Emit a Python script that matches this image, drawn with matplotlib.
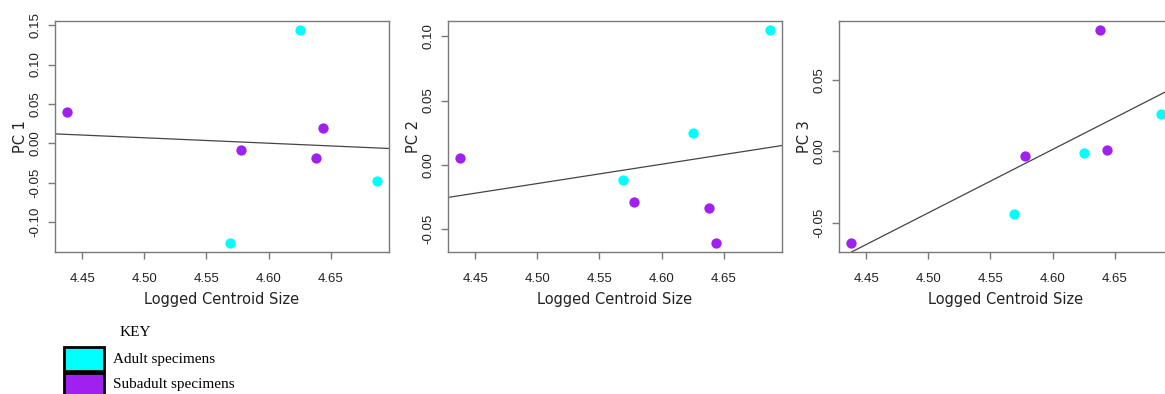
import matplotlib
matplotlib.use("Agg")
import matplotlib.pyplot as plt
import numpy as np
from matplotlib.patches import Rectangle
from matplotlib.ticker import FormatStrFormatter

plt.rcParams["axes.unicode_minus"] = False

# logged centroid size per specimen
size_adult = [4.569, 4.625, 4.687]
size_subadult = [4.438, 4.578, 4.638, 4.644]

# principal component scores
pc1_adult = [-0.1275, 0.1445, -0.0477]
pc1_subadult = [0.0398, -0.0084, -0.0185, 0.0190]
pc2_adult = [-0.0122, 0.0246, 0.1054]
pc2_subadult = [0.0055, -0.0288, -0.0340, -0.0615]
pc3_adult = [-0.0435, -0.0014, 0.0262]
pc3_subadult = [-0.0645, -0.0030, 0.0855, 0.0012]

pc_labels = ["PC 1", "PC 2", "PC 3"]
pc_adult = [pc1_adult, pc2_adult, pc3_adult]
pc_subadult = [pc1_subadult, pc2_subadult, pc3_subadult]
yticks = [np.arange(-0.10, 0.151, 0.05), np.arange(-0.05, 0.101, 0.05),
          np.arange(-0.05, 0.051, 0.05)]
xticks = np.arange(4.45, 4.651, 0.05)

ADULT = "#00FFFF"
SUBADULT = "#A020F0"
AXIS_GREY = "#7a7a7a"

W, H = 1165, 394
fig = plt.figure(figsize=(W / 100, H / 100), dpi=100)


def px_box(left, top, right, bottom):
    return [left / W, 1 - bottom / H, (right - left) / W, (bottom - top) / H]


panel_lefts = [55, 448, 839]
for i in range(3):
    ax = fig.add_axes(px_box(panel_lefts[i], 21, panel_lefts[i] + 334, 252))
    ax.scatter(size_adult, pc_adult[i], s=55, color=ADULT, zorder=3, linewidths=0)
    ax.scatter(size_subadult, pc_subadult[i], s=55, color=SUBADULT, zorder=3, linewidths=0)
    ax.margins(0.04)
    ax.autoscale_view()
    ax.set_xlim(ax.get_xlim())
    ax.set_ylim(ax.get_ylim())

    # least squares line through all specimens
    x_all = np.array(size_adult + size_subadult)
    y_all = np.array(pc_adult[i] + pc_subadult[i])
    slope, icpt = np.polyfit(x_all, y_all, 1)
    xm = x_all.mean()
    ax.axline((xm, icpt + slope * xm), slope=slope, color="#444444", lw=0.9, zorder=2)

    ax.set_xticks(xticks)
    ax.set_yticks(yticks[i])
    ax.xaxis.set_major_formatter(FormatStrFormatter("%.2f"))
    ax.yaxis.set_major_formatter(FormatStrFormatter("%.2f"))
    ax.tick_params(colors=AXIS_GREY, labelcolor="#222222", length=5, width=1,
                   labelsize=9.5)
    ax.tick_params(axis="x", pad=10)
    ax.tick_params(axis="y", pad=5, labelrotation=90)
    for lbl in ax.get_yticklabels():
        lbl.set_va("center")
        lbl.set_family("Liberation Sans")
    for lbl in ax.get_xticklabels():
        lbl.set_family("Liberation Sans")
    for sp in ax.spines.values():
        sp.set_color(AXIS_GREY)
        sp.set_linewidth(1)
    ax.set_xlabel("Logged Centroid Size", fontsize=10.5, color="#222222", labelpad=5)
    ax.set_ylabel(pc_labels[i], fontsize=10.5, color="#222222", labelpad=1)

# key beneath the plots
fig.text(120 / W, 1 - 332 / H, "KEY", family="Liberation Serif", fontsize=11,
         va="center", ha="left")
key_labels = ["Adult specimens", "Subadult specimens"]
key_colors = [ADULT, SUBADULT]
for j in range(2):
    top = 347 + 25.5 * j
    fig.patches.append(Rectangle((64 / W, 1 - (top + 24) / H), 40 / W, 24 / H,
                                 transform=fig.transFigure, facecolor=key_colors[j],
                                 edgecolor="black", linewidth=2))
    fig.text(113 / W, 1 - (top + 12) / H, key_labels[j], family="Liberation Serif",
             fontsize=11, va="center", ha="left")

fig.savefig("out.png", dpi=100)
